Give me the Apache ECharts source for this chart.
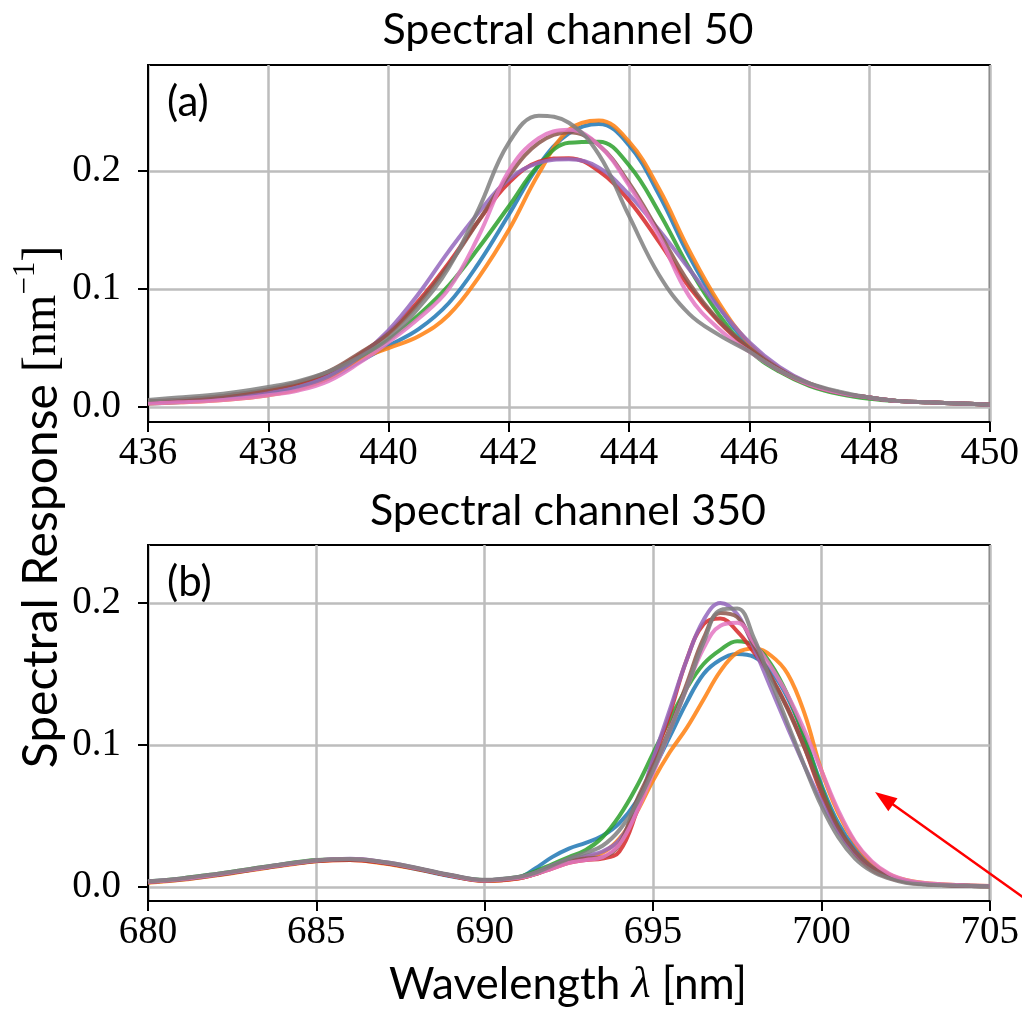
<!DOCTYPE html>
<html>
<head>
<meta charset="utf-8">
<script src="https://cdn.jsdelivr.net/npm/echarts@6/dist/echarts.min.js"></script>
<style>
  html, body { margin: 0; padding: 0; background: #fff; }
  #chart { width: 1022px; height: 1017px; }
</style>
</head>
<body>
<div id="chart"></div>
<script>
// Panel (a): spectral channel 50, wavelength samples [nm]
const ch50Wavelength = [436, 436.5, 437, 437.5, 438, 438.5, 439, 439.5, 440, 440.5, 441, 441.5, 442, 442.5,
  443, 443.5, 444, 444.5, 445, 445.5, 446, 446.5, 447, 447.5, 448, 448.5, 449, 449.5, 450];
const ch50Curve1 = [0.003, 0.004, 0.006, 0.008, 0.011, 0.016, 0.024, 0.038, 0.052, 0.066, 0.088, 0.122, 0.163, 0.205,
  0.232, 0.240, 0.222, 0.180, 0.128, 0.085, 0.052, 0.032, 0.019, 0.012, 0.008, 0.005, 0.004, 0.003, 0.002];
const ch50Curve2 = [0.003, 0.004, 0.005, 0.007, 0.010, 0.015, 0.024, 0.040, 0.050, 0.060, 0.078, 0.110, 0.150, 0.198,
  0.235, 0.243, 0.225, 0.185, 0.133, 0.088, 0.054, 0.033, 0.020, 0.012, 0.008, 0.005, 0.004, 0.003, 0.002];
const ch50Curve3 = [0.004, 0.005, 0.007, 0.009, 0.012, 0.018, 0.027, 0.042, 0.057, 0.078, 0.103, 0.135, 0.170, 0.205,
  0.224, 0.225, 0.205, 0.165, 0.118, 0.078, 0.048, 0.030, 0.018, 0.011, 0.007, 0.005, 0.004, 0.003, 0.002];
const ch50Curve4 = [0.005, 0.006, 0.008, 0.011, 0.014, 0.020, 0.029, 0.044, 0.063, 0.090, 0.122, 0.158, 0.190, 0.208,
  0.211, 0.200, 0.175, 0.140, 0.102, 0.072, 0.049, 0.031, 0.019, 0.012, 0.008, 0.005, 0.004, 0.003, 0.002];
const ch50Curve5 = [0.004, 0.005, 0.007, 0.009, 0.012, 0.017, 0.026, 0.042, 0.065, 0.096, 0.132, 0.165, 0.193, 0.207,
  0.210, 0.203, 0.180, 0.150, 0.117, 0.084, 0.055, 0.034, 0.020, 0.012, 0.008, 0.005, 0.004, 0.003, 0.002];
const ch50Curve6 = [0.005, 0.006, 0.008, 0.011, 0.015, 0.021, 0.030, 0.045, 0.062, 0.088, 0.120, 0.158, 0.196, 0.224,
  0.233, 0.222, 0.190, 0.148, 0.105, 0.073, 0.050, 0.032, 0.019, 0.012, 0.008, 0.005, 0.004, 0.003, 0.002];
const ch50Curve7 = [0.003, 0.004, 0.005, 0.007, 0.010, 0.014, 0.022, 0.037, 0.055, 0.075, 0.100, 0.145, 0.200, 0.228,
  0.235, 0.222, 0.188, 0.145, 0.094, 0.066, 0.047, 0.031, 0.019, 0.012, 0.008, 0.005, 0.004, 0.003, 0.002];
const ch50Curve8 = [0.006, 0.008, 0.010, 0.013, 0.017, 0.022, 0.030, 0.042, 0.058, 0.084, 0.118, 0.168, 0.224, 0.247,
  0.241, 0.214, 0.162, 0.112, 0.079, 0.061, 0.047, 0.031, 0.020, 0.013, 0.008, 0.005, 0.004, 0.003, 0.002];

// Panel (b): spectral channel 350, wavelength samples [nm]
const ch350Wavelength = [680, 681, 682, 683, 684, 685, 686, 687, 688, 689, 690, 691,
  691.5, 692, 692.5, 693, 693.5, 694, 694.5, 695, 695.5, 696, 696.5, 697, 697.5, 698, 698.5, 699, 699.5,
  700, 700.5, 701, 701.5, 702, 702.5, 703, 704, 705];
const ch350Curve1 = [0.0035, 0.0055, 0.0085, 0.012, 0.0155, 0.0185, 0.0195, 0.017, 0.0125, 0.0075, 0.0045, 0.0065,
  0.013, 0.021, 0.027, 0.031, 0.036, 0.045, 0.060, 0.082, 0.106, 0.130, 0.150, 0.160, 0.164, 0.162, 0.152, 0.133, 0.105,
  0.072, 0.045, 0.027, 0.015, 0.008, 0.004, 0.0025, 0.0012, 0.0006];
const ch350Curve2 = [0.003, 0.005, 0.008, 0.0115, 0.015, 0.018, 0.019, 0.0165, 0.0125, 0.0078, 0.0042, 0.006,
  0.009, 0.014, 0.018, 0.021, 0.024, 0.034, 0.052, 0.075, 0.095, 0.112, 0.132, 0.152, 0.165, 0.168, 0.163, 0.150, 0.122,
  0.082, 0.052, 0.031, 0.017, 0.009, 0.005, 0.003, 0.0013, 0.0006];
const ch350Curve3 = [0.004, 0.006, 0.009, 0.0125, 0.016, 0.019, 0.0195, 0.0172, 0.013, 0.008, 0.0048, 0.007,
  0.011, 0.016, 0.021, 0.026, 0.035, 0.050, 0.070, 0.094, 0.118, 0.140, 0.157, 0.167, 0.173, 0.170, 0.157, 0.135, 0.105,
  0.070, 0.042, 0.024, 0.013, 0.007, 0.004, 0.0023, 0.0011, 0.0005];
const ch350Curve4 = [0.0035, 0.0055, 0.0085, 0.012, 0.0155, 0.0182, 0.019, 0.0168, 0.0128, 0.0078, 0.0044, 0.006,
  0.009, 0.013, 0.017, 0.019, 0.020, 0.025, 0.052, 0.088, 0.122, 0.160, 0.185, 0.189, 0.180, 0.165, 0.148, 0.126, 0.098,
  0.066, 0.040, 0.023, 0.012, 0.0065, 0.0035, 0.002, 0.001, 0.0005];
const ch350Curve5 = [0.0038, 0.0058, 0.0088, 0.0122, 0.0158, 0.0187, 0.0198, 0.0175, 0.0132, 0.0082, 0.0048, 0.0068,
  0.010, 0.015, 0.019, 0.022, 0.025, 0.033, 0.055, 0.090, 0.125, 0.160, 0.188, 0.200, 0.192, 0.168, 0.140, 0.112, 0.085,
  0.060, 0.039, 0.024, 0.014, 0.0075, 0.004, 0.0023, 0.0011, 0.0005];
const ch350Curve6 = [0.0033, 0.0052, 0.0082, 0.0118, 0.0153, 0.0183, 0.0193, 0.017, 0.0128, 0.008, 0.0045, 0.0062,
  0.009, 0.014, 0.018, 0.020, 0.021, 0.030, 0.060, 0.085, 0.112, 0.143, 0.175, 0.193, 0.190, 0.170, 0.148, 0.125, 0.098,
  0.068, 0.042, 0.025, 0.014, 0.0075, 0.004, 0.0023, 0.0011, 0.0005];
const ch350Curve7 = [0.0036, 0.0056, 0.0086, 0.0121, 0.0156, 0.0186, 0.0196, 0.0174, 0.0131, 0.0081, 0.0046, 0.0064,
  0.009, 0.013, 0.017, 0.019, 0.021, 0.030, 0.052, 0.080, 0.110, 0.140, 0.168, 0.184, 0.186, 0.172, 0.155, 0.135, 0.110,
  0.082, 0.054, 0.032, 0.018, 0.0095, 0.005, 0.003, 0.0013, 0.0006];
const ch350Curve8 = [0.004, 0.006, 0.009, 0.0125, 0.016, 0.0188, 0.0197, 0.0176, 0.0134, 0.0084, 0.005, 0.007,
  0.010, 0.015, 0.020, 0.024, 0.029, 0.040, 0.058, 0.082, 0.110, 0.140, 0.172, 0.195, 0.196, 0.175, 0.145, 0.115, 0.085,
  0.057, 0.035, 0.020, 0.011, 0.006, 0.003, 0.0018, 0.001, 0.0005];

// Axis ticks
const ch50Ticks = [436, 438, 440, 442, 444, 446, 448, 450];
const ch350Ticks = [680, 685, 690, 695, 700, 705];
const responseTicks = [0, 0.1, 0.2];

const lineColors = ['#1f77b4', '#ff7f0e', '#2ca02c', '#d62728', '#9467bd', '#8c564b', '#e377c2', '#7f7f7f'];
const ch50Curves = [ch50Curve1, ch50Curve2, ch50Curve3, ch50Curve4, ch50Curve5, ch50Curve6, ch50Curve7, ch50Curve8];
const ch350Curves = [ch350Curve1, ch350Curve2, ch350Curve3, ch350Curve4, ch350Curve5, ch350Curve6, ch350Curve7, ch350Curve8];

const SERIF = '"Liberation Serif", "DejaVu Serif", serif';
const SANS = 'Lato, "Open Sans", sans-serif';

function pairs(xs, ys) { return xs.map((x, i) => [x, ys[i]]); }

function makeX(gridIndex, ticks) {
  return {
    type: 'value', gridIndex,
    min: ticks[0], max: ticks[ticks.length - 1], interval: ticks[1] - ticks[0],
    axisLine: { show: true, onZero: false, lineStyle: { color: '#000', width: 2 } },
    axisTick: { show: true, length: 10, lineStyle: { color: '#000', width: 2 } },
    axisLabel: { color: '#000', fontFamily: SERIF, fontSize: 39, margin: 12 },
    splitLine: { show: true, lineStyle: { color: '#bdbdbd', width: 2.5 } }
  };
}
function makeY(gridIndex, lo, hi) {
  return {
    type: 'value', gridIndex, min: lo, max: hi,
    axisLine: { show: true, onZero: false, lineStyle: { color: '#000', width: 2 } },
    axisTick: { show: true, length: 10, customValues: responseTicks, lineStyle: { color: '#000', width: 2 } },
    axisLabel: { color: '#000', fontFamily: SERIF, fontSize: 39, margin: 27,
      customValues: responseTicks, formatter: v => v.toFixed(1) },
    splitLine: { show: true, lineStyle: { color: '#bdbdbd', width: 2.5 } }
  };
}

const series = [];
ch50Curves.forEach((ys, i) => series.push({
  type: 'line', xAxisIndex: 0, yAxisIndex: 0, data: pairs(ch50Wavelength, ys),
  showSymbol: false, smooth: 0.4, lineStyle: { color: lineColors[i], width: 4, opacity: 0.85 }
}));
ch350Curves.forEach((ys, i) => series.push({
  type: 'line', xAxisIndex: 1, yAxisIndex: 1, data: pairs(ch350Wavelength, ys),
  showSymbol: false, smooth: 0.4, lineStyle: { color: lineColors[i], width: 4, opacity: 0.85 }
}));

const chart = echarts.init(document.getElementById('chart'), null, { renderer: 'canvas' });
chart.setOption({
  backgroundColor: '#fff',
  animation: false,
  grid: [
    { left: 148, top: 65, width: 842, height: 357, show: true, borderColor: '#000', borderWidth: 2 },
    { left: 148, top: 545, width: 842, height: 356, show: true, borderColor: '#000', borderWidth: 2 }
  ],
  xAxis: [makeX(0, ch50Ticks), makeX(1, ch350Ticks)],
  yAxis: [makeY(0, -0.0127, 0.29), makeY(1, -0.0099, 0.2408)],
  series,
  graphic: [
    { type: 'text', x: 568, y: 30, style: { text: 'Spectral channel 50', font: '43px ' + SANS,
      fill: '#000', textAlign: 'center', textVerticalAlign: 'middle' } },
    { type: 'text', x: 568, y: 511, style: { text: 'Spectral channel 350', font: '43px ' + SANS,
      fill: '#000', textAlign: 'center', textVerticalAlign: 'middle' } },
    { type: 'text', x: 167, y: 102, z: 100, style: { text: '(a)', font: '42px ' + SANS,
      fill: '#000', textAlign: 'left', textVerticalAlign: 'middle' } },
    { type: 'text', x: 167, y: 582, z: 100, style: { text: '(b)', font: '42px ' + SANS,
      fill: '#000', textAlign: 'left', textVerticalAlign: 'middle' } },
    { type: 'text', x: 38, y: 507, rotation: Math.PI / 2,
      style: {
        text: '{s|Spectral Response }{r|[nm}{u|−1}{r|]}',
        textAlign: 'center', textVerticalAlign: 'middle', fill: '#000',
        rich: {
          s: { fontFamily: SANS, fontSize: 48, lineHeight: 56, verticalAlign: 'bottom' },
          r: { fontFamily: SERIF, fontSize: 48, lineHeight: 56, verticalAlign: 'bottom' },
          u: { fontFamily: SERIF, fontSize: 31, lineHeight: 56, verticalAlign: 'top' }
        }
      } },
    { type: 'text', x: 568, y: 985,
      style: {
        text: '{s|Wavelength }{l|λ}{s| [nm]}',
        textAlign: 'center', textVerticalAlign: 'middle', fill: '#000',
        rich: {
          s: { fontFamily: SANS, fontSize: 44 },
          l: { fontFamily: SERIF, fontSize: 44, fontStyle: 'italic' }
        }
      } },
    // red pointer arrow
    { type: 'line', z: 100, shape: { x1: 1024, y1: 898, x2: 884, y2: 798 },
      style: { stroke: '#ff0000', lineWidth: 2.5 } },
    { type: 'polygon', z: 100, shape: { points: [[875, 792], [897.5, 798.3], [888.3, 811.3]] },
      style: { fill: '#ff0000' } }
  ]
});
</script>
</body>
</html>
